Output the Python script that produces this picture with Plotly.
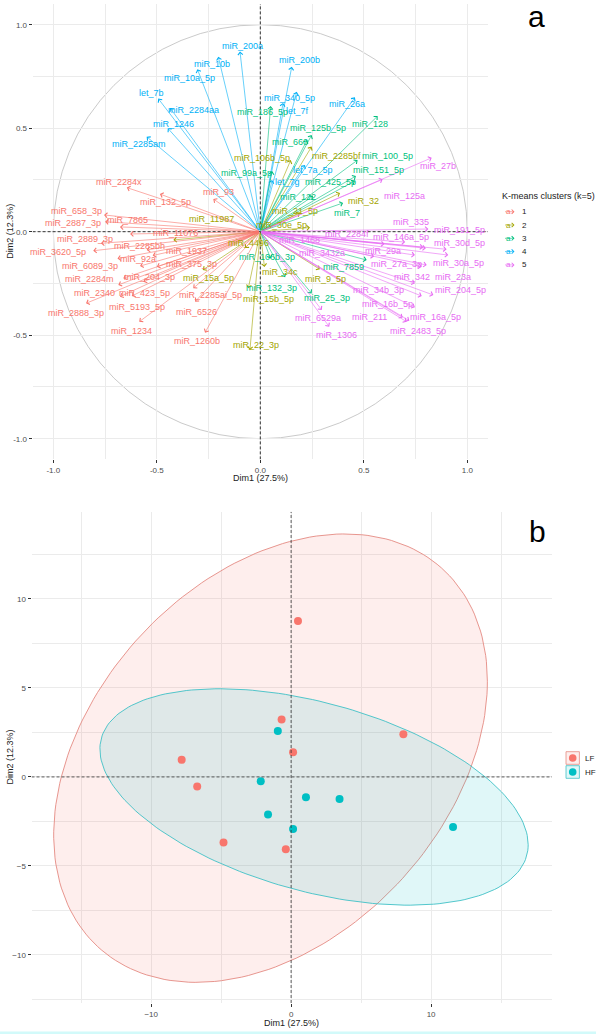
import numpy as np
import plotly.graph_objects as go

# ---------------- data: variables (correlation circle) ----------------
var_names = [
    "miR_200a", "miR_10b", "miR_10a_5p", "let_7b", "miR_2284aa", "miR_1246", "miR_2285am",
    "miR_200b", "miR_340_5p", "let_7f", "miR_26a", "let_7a_5p", "let_7g",
    "miR_186_5p", "miR_128", "miR_125b_5p", "miR_660", "miR_100_5p", "miR_151_5p",
    "miR_425_5p", "miR_122", "miR_7", "miR_99a_5p", "miR_106b_3p", "miR_132_3p",
    "miR_25_3p", "miR_7859",
    "miR_32", "miR_21_5p", "miR_30e_5p", "miR_106b_5p", "miR_2285bf", "miR_11987",
    "miR_15a_5p", "miR_4496", "miR_34c", "miR_15b_5p", "miR_22_3p", "miR_9_5p",
    "miR_2284x", "miR_132_5p", "miR_93", "miR_658_3p", "miR_2887_3p", "miR_7865",
    "miR_11076", "miR_2889_3p", "miR_2285bh", "miR_3620_5p", "miR_1937", "miR_6089_3p",
    "miR_92a", "miR_375_3p", "miR_2284m", "miR_204_3p", "miR_2340", "miR_423_5p",
    "miR_5193_5p", "miR_2888_3p", "miR_1234", "miR_1260b", "miR_6526", "miR_2285ai_5p",
    "miR_27b", "miR_125a", "miR_335", "miR_191_5p", "miR_30d_5p", "miR_146a_5p",
    "miR_2284f", "miR_29a", "miR_30a_5p", "miR_27a_3p", "miR_23a", "miR_342",
    "miR_204_5p", "miR_34b_3p", "miR_16b_5p", "miR_211", "miR_16a_5p", "miR_2483_5p",
    "miR_6529a", "miR_1306", "miR_3432a", "miR_1468",
]
var_cluster = [
    4, 4, 4, 4, 4, 4, 4,
    4, 4, 4, 4, 4, 4,
    3, 3, 3, 3, 3, 3,
    3, 3, 3, 3, 3, 3,
    3, 3,
    2, 2, 2, 2, 2, 2,
    2, 2, 2, 2, 2, 2,
    1, 1, 1, 1, 1, 1,
    1, 1, 1, 1, 1, 1,
    1, 1, 1, 1, 1, 1,
    1, 1, 1, 1, 1, 1,
    5, 5, 5, 5, 5, 5,
    5, 5, 5, 5, 5, 5,
    5, 5, 5, 5, 5, 5,
    5, 5, 5, 5,
]
var_dim1 = [
    -0.098, -0.203, -0.304, -0.493, -0.436, -0.447, -0.549,
    0.152, 0.176, 0.110, 0.457, 0.216, 0.057,
    0.050, 0.567, 0.248, 0.226, 0.470, 0.462,
    0.457, 0.255, 0.400, 0.057, 0.050, 0.120,
    0.248, 0.514,
    0.385, 0.192, 0.240, 0.147, 0.248, -0.420,
    -0.278, -0.074, 0.020, -0.058, -0.050, 0.288,
    -0.645, -0.485, -0.227, -0.755, -0.750, -0.678,
    -0.629, -0.770, -0.549, -0.807, -0.520, -0.690,
    -0.581, -0.500, -0.662, -0.565, -0.686, -0.621,
    -0.678, -0.842, -0.585, -0.267, -0.315, -0.324,
    0.828, 0.591, 0.812, 0.800, 0.900, 0.787,
    0.700, 0.747, 0.908, 0.780, 0.804, 0.747,
    0.836, 0.780, 0.747, 0.688, 0.720, 0.707,
    0.297, 0.333, 0.550, 0.600,
]
var_dim2 = [
    0.870, 0.845, 0.785, 0.643, 0.598, 0.500, 0.459,
    0.797, 0.676, 0.622, 0.649, 0.322, 0.250,
    0.607, 0.559, 0.467, 0.443, 0.346, 0.269,
    0.245, 0.172, 0.139, 0.293, -0.130, -0.220,
    -0.298, -0.137,
    0.187, 0.090, 0.020, 0.346, 0.411, -0.040,
    -0.185, -0.079, -0.170, -0.273, -0.571, -0.182,
    0.213, 0.182, 0.158, 0.081, 0.048, 0.023,
    -0.011, -0.056, -0.088, -0.092, -0.115, -0.130,
    -0.166, -0.169, -0.225, -0.242, -0.257, -0.311,
    -0.314, -0.346, -0.435, -0.488, -0.338, -0.273,
    0.357, 0.253, 0.013, -0.080, -0.085, -0.075,
    -0.050, -0.113, -0.113, -0.169, -0.161, -0.249,
    -0.306, -0.311, -0.365, -0.415, -0.430, -0.435,
    -0.378, -0.459, -0.120, -0.060,
]
# repelled label positions (as placed by the original label-repel step)
label_dim1 = [
    -0.085, -0.233, -0.344, -0.528, -0.323, -0.420, -0.585,
    0.187, 0.143, 0.179, 0.417, 0.255, 0.129,
    0.013, 0.530, 0.277, 0.143, 0.615, 0.573,
    0.337, 0.182, 0.417, -0.069, 0.031, 0.055,
    0.321, 0.401,
    0.498, 0.170, 0.100, 0.007, 0.369, -0.235,
    -0.251, -0.058, 0.095, 0.039, -0.020, 0.313,
    -0.684, -0.457, -0.200, -0.887, -0.903, -0.643,
    -0.412, -0.847, -0.585, -0.976, -0.356, -0.823,
    -0.589, -0.331, -0.823, -0.533, -0.799, -0.560,
    -0.597, -0.890, -0.621, -0.307, -0.310, -0.243,
    0.857, 0.699, 0.727, 0.961, 0.961, 0.678,
    0.417, 0.594, 0.957, 0.659, 0.932, 0.731,
    0.965, 0.570, 0.614, 0.527, 0.844, 0.763,
    0.280, 0.366, 0.297, 0.190,
]
label_dim2 = [
    0.897, 0.810, 0.741, 0.670, 0.589, 0.520, 0.422,
    0.829, 0.647, 0.583, 0.615, 0.298, 0.240,
    0.578, 0.520, 0.500, 0.433, 0.367, 0.298,
    0.240, 0.170, 0.089, 0.285, -0.121, -0.273,
    -0.319, -0.169,
    0.148, 0.100, 0.030, 0.357, 0.367, 0.060,
    -0.225, -0.053, -0.193, -0.327, -0.547, -0.230,
    0.242, 0.143, 0.193, 0.100, 0.043, 0.057,
    -0.005, -0.035, -0.069, -0.097, -0.092, -0.166,
    -0.133, -0.157, -0.230, -0.220, -0.298, -0.298,
    -0.362, -0.394, -0.478, -0.528, -0.386, -0.306,
    0.319, 0.172, 0.045, 0.008, -0.053, -0.024,
    -0.013, -0.092, -0.150, -0.157, -0.217, -0.220,
    -0.282, -0.282, -0.349, -0.411, -0.411, -0.478,
    -0.415, -0.499, -0.101, -0.040,
]
cluster_ids = [1, 2, 3, 4, 5]

# ---------------- data: individuals ----------------
ind_group = ["LF"] * 8 + ["HF"] * 7
ind_dim1 = [0.49, -0.68, 0.14, 8.02, -7.82, -6.71, -4.83, -0.38,
            -0.95, -2.17, 1.06, 3.46, -1.65, 0.14, 11.57]
ind_dim2 = [8.76, 3.22, 1.39, 2.40, 0.96, -0.54, -3.69, -4.06,
            2.58, -0.24, -1.14, -1.24, -2.11, -2.92, -2.81]
groups = ["LF", "HF"]

# ---------------- styling ----------------
W, H = 596, 1034
FONT = "Liberation Sans"
cl_col = {1: "#F8766D", 2: "#A3A500", 3: "#00BF7D", 4: "#00B0F6", 5: "#E76BF3"}
grp_col = {"LF": "#F8766D", "HF": "#00BFC4"}
grp_fill = {"LF": "rgba(248,118,109,0.12)", "HF": "rgba(0,191,196,0.12)"}
grp_line = {"LF": "#E48A82", "HF": "#3FC1C6"}
GRID = "#EBEBEB"
DASH = "3px,2px"


def px(x):
    return x / W


def py(y):
    return 1 - y / H


def conf_ellipse(xs, ys, level=0.95, n=200):
    X = np.column_stack([xs, ys])
    k = len(xs)
    c = X.mean(axis=0)
    S = np.cov(X.T)
    d = k - 1
    fq = (d / 2.0) * ((1 - level) ** (-2.0 / d) - 1)  # qf(level, 2, d)
    r = np.sqrt(2 * fq)
    R = np.linalg.cholesky(S).T
    t = np.linspace(0, 2 * np.pi, n)
    uc = np.column_stack([np.cos(t), np.sin(t)])
    E = c + r * (uc @ R)
    return E[:, 0], E[:, 1]


def ptext(x, y, text, size, color, xanchor="center", angle=0):
    return dict(x=px(x), y=py(y), xref="paper", yref="paper", text=text, showarrow=False,
                xanchor=xanchor, yanchor="middle", textangle=angle,
                font=dict(family=FONT, size=size, color=color))


fig = go.Figure()

# invisible anchor trace for top panel
fig.add_trace(go.Scatter(x=[0], y=[0], mode="markers", marker=dict(size=1, color="rgba(0,0,0,0)"),
                         showlegend=False, hoverinfo="skip", xaxis="x", yaxis="y"))

# ellipses (bottom panel)
for g in groups:
    xs = [a for a, gg in zip(ind_dim1, ind_group) if gg == g]
    ys = [b for b, gg in zip(ind_dim2, ind_group) if gg == g]
    ex, ey = conf_ellipse(xs, ys)
    fig.add_trace(go.Scatter(x=ex, y=ey, mode="lines", fill="toself", fillcolor=grp_fill[g],
                             line=dict(color=grp_line[g], width=0.9), showlegend=False,
                             hoverinfo="skip", xaxis="x2", yaxis="y2"))
for g in groups:
    xs = [a for a, gg in zip(ind_dim1, ind_group) if gg == g]
    ys = [b for b, gg in zip(ind_dim2, ind_group) if gg == g]
    fig.add_trace(go.Scatter(x=xs, y=ys, mode="markers", marker=dict(size=8, color=grp_col[g]),
                             showlegend=False, xaxis="x2", yaxis="y2"))

shapes = []
annotations = []

# unit circle
shapes.append(dict(type="circle", xref="x", yref="y", x0=-1, y0=-1, x1=1, y1=1,
                   line=dict(color="#BDBDBD", width=0.8), layer="below"))
# dashed axes lines
shapes.append(dict(type="line", xref="x", yref="y", x0=0, x1=0, y0=-1.1, y1=1.1,
                   line=dict(color="black", width=0.8, dash=DASH)))
shapes.append(dict(type="line", xref="x", yref="y", x0=-1.1, x1=1.1, y0=0, y1=0,
                   line=dict(color="black", width=0.8, dash=DASH)))
shapes.append(dict(type="line", xref="x2", yref="y2", x0=0, x1=0, y0=-12.7, y1=14.9,
                   line=dict(color="#333333", width=0.8, dash=DASH)))
shapes.append(dict(type="line", xref="x2", yref="y2", x0=-18.55, x1=18.64, y0=0, y1=0,
                   line=dict(color="#333333", width=0.8, dash=DASH)))

# arrows
for nm, c, x, y in zip(var_names, var_cluster, var_dim1, var_dim2):
    annotations.append(dict(x=x, y=y, xref="x", yref="y", ax=0, ay=0, axref="x", ayref="y",
                            text="", showarrow=True, arrowhead=4, arrowsize=1.6, arrowwidth=0.6,
                            arrowcolor=cl_col[c], standoff=0, startstandoff=0,
                            font=dict(size=1)))
# labels
for nm, c, x, y in zip(var_names, var_cluster, label_dim1, label_dim2):
    annotations.append(dict(x=x, y=y, xref="x", yref="y", text=nm, showarrow=False,
                            xanchor="center", yanchor="middle",
                            font=dict(family=FONT, size=9, color=cl_col[c])))

# axis titles and panel letters
tcol = "#222222"
annotations += [
    ptext(260.3, 477.5, "Dim1 (27.5%)", 9, tcol),
    ptext(10, 231.7, "Dim2 (12.3%)", 9, tcol, angle=-90),
    ptext(291, 1023, "Dim1 (27.5%)", 9, tcol),
    ptext(10, 757.5, "Dim2 (12.3%)", 9, tcol, angle=-90),
    ptext(536, 16, "a", 30, "black"),
    ptext(537.6, 531, "b", 30, "black"),
]

# top legend
annotations.append(ptext(500, 196, "K-means clusters (k=5)", 9, tcol, xanchor="left"))
for i, c in enumerate(cluster_ids):
    yy = 211.7 + 13.3 * i
    annotations.append(dict(x=px(514.5), y=py(yy), xref="paper", yref="paper", ax=-11, ay=0,
                            text="", showarrow=True, arrowhead=4, arrowsize=1.4, arrowwidth=0.6,
                            arrowcolor=cl_col[c], standoff=0, startstandoff=0, font=dict(size=1)))
    annotations.append(ptext(508, yy, "a", 8, cl_col[c]))
    annotations.append(ptext(520, yy, str(c), 8, tcol, xanchor="left"))

# bottom legend
for i, g in enumerate(groups):
    y0 = 751.7 + 14.0 * i
    shapes.append(dict(type="rect", xref="paper", yref="paper", x0=px(566), x1=px(579.4),
                       y0=py(y0 + 12.6), y1=py(y0), fillcolor=grp_fill[g],
                       line=dict(color=grp_line[g], width=0.8)))
    cy = y0 + 6.3
    shapes.append(dict(type="circle", xref="paper", yref="paper", x0=px(568.9), x1=px(576.5),
                       y0=py(cy + 3.8), y1=py(cy - 3.8), fillcolor=grp_col[g],
                       line=dict(color=grp_col[g], width=0)))
    annotations.append(ptext(582.5, cy, g, 8, tcol, xanchor="left"))

# thin cyan strip at the very bottom
shapes.append(dict(type="rect", xref="paper", yref="paper", x0=0, x1=1, y0=0, y1=2.5 / H,
                   fillcolor="#D2FAFA", line=dict(width=0)))

axis_common = dict(showgrid=True, gridcolor=GRID, gridwidth=0.6, zeroline=False, showline=False,
                   ticks="outside", ticklen=3, tickwidth=0.6, tickcolor="#333333",
                   tickfont=dict(family=FONT, size=8, color="#4D4D4D"))

fig.update_layout(
    width=W, height=H, autosize=False,
    margin=dict(l=0, r=0, t=0, b=0),
    paper_bgcolor="white", plot_bgcolor="white",
    showlegend=False,
    xaxis=dict(domain=[px(32.6), px(488)], range=[-1.1, 1.1], anchor="y",
               tickvals=[-1, -0.5, 0, 0.5, 1], ticktext=["-1.0", "-0.5", "0.0", "0.5", "1.0"],
               minor=dict(tickvals=[-0.75, -0.25, 0.25, 0.75], showgrid=True, gridcolor=GRID,
                          gridwidth=0.5, ticks=""),
               **axis_common),
    yaxis=dict(domain=[py(459.4), py(4)], range=[-1.1, 1.1], anchor="x",
               tickvals=[-1, -0.5, 0, 0.5, 1], ticktext=["-1.0", "-0.5", "0.0", "0.5", "1.0"],
               minor=dict(tickvals=[-0.75, -0.25, 0.25, 0.75], showgrid=True, gridcolor=GRID,
                          gridwidth=0.5, ticks=""),
               **axis_common),
    xaxis2=dict(domain=[px(31.5), px(552)], range=[-18.55, 18.64], anchor="y2",
                tickvals=[-10, 0, 10],
                minor=dict(tickvals=[-15, -5, 5, 15], showgrid=True, gridcolor=GRID,
                           gridwidth=0.5, ticks=""),
                **axis_common),
    yaxis2=dict(domain=[py(1003), py(511.7)], range=[-12.7, 14.9], anchor="x2",
                tickvals=[-10, -5, 0, 5, 10],
                minor=dict(tickvals=[-12.5, -7.5, -2.5, 2.5, 7.5, 12.5], showgrid=True,
                           gridcolor=GRID, gridwidth=0.5, ticks=""),
                **axis_common),
    shapes=shapes,
    annotations=annotations,
)

fig.write_html(
    "out.html",
    config={"displayModeBar": False},
    post_script="document.body.style.margin='0';document.body.style.padding='0';"
                "document.documentElement.style.overflow='hidden';",
)
